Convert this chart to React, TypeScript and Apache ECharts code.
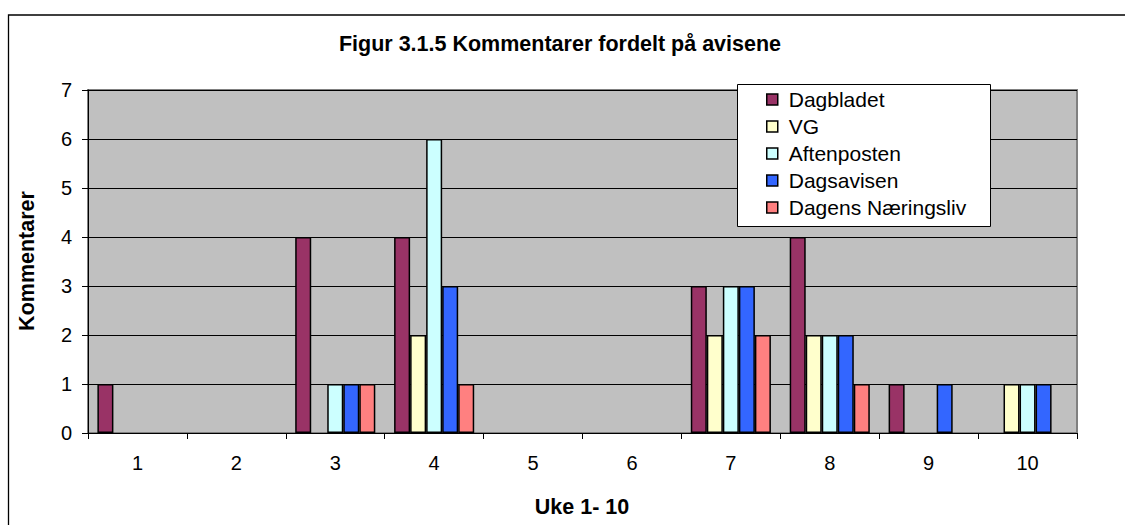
import React, { useEffect, useRef } from "react";
import * as echarts from "echarts";

const weeks = ["1", "2", "3", "4", "5", "6", "7", "8", "9", "10"];
const dagbladet = [1, 0, 4, 4, 0, 0, 3, 4, 1, 0];
const vg = [0, 0, 0, 2, 0, 0, 2, 2, 0, 1];
const aftenposten = [0, 0, 1, 6, 0, 0, 3, 2, 0, 1];
const dagsavisen = [0, 0, 1, 3, 0, 0, 3, 2, 1, 1];
const dagensNaeringsliv = [0, 0, 1, 1, 0, 0, 2, 1, 0, 0];
const yTicks = [0, 7, 1];

const seriesDefs = [
  { name: "Dagbladet", data: dagbladet, color: "#993366" },
  { name: "VG", data: vg, color: "#FFFFCC" },
  { name: "Aftenposten", data: aftenposten, color: "#CCFFFF" },
  { name: "Dagsavisen", data: dagsavisen, color: "#3366FF" },
  { name: "Dagens Næringsliv", data: dagensNaeringsliv, color: "#FF8080" },
];

const FONT = "'Liberation Sans', Arial, sans-serif";

export default function App() {
  const ref = useRef<HTMLDivElement>(null);
  useEffect(() => {
    if (!ref.current) return;
    const chart = echarts.init(ref.current, null, { renderer: "svg" });
    chart.setOption({
      animation: false,
      backgroundColor: "#ffffff",
      textStyle: { fontFamily: FONT },
      grid: {
        left: 88,
        top: 90,
        right: 48,
        bottom: 92,
        show: true,
        backgroundColor: "#C0C0C0",
        borderColor: "#808080",
        borderWidth: 2,
      },
      xAxis: {
        type: "category",
        data: weeks,
        axisLine: { show: true, lineStyle: { color: "#000", width: 1 } },
        axisTick: { show: true, length: 6, lineStyle: { color: "#000" } },
        axisLabel: { color: "#000", fontSize: 20, margin: 20, fontFamily: FONT },
        splitLine: { show: false },
      },
      yAxis: {
        type: "value",
        min: yTicks[0],
        max: yTicks[1],
        interval: yTicks[2],
        axisLine: { show: true, lineStyle: { color: "#000", width: 1 } },
        axisTick: { show: true, length: 6, lineStyle: { color: "#000" } },
        axisLabel: { color: "#000", fontSize: 20, margin: 16, fontFamily: FONT },
        splitLine: { show: true, lineStyle: { color: "#000", width: 1 } },
      },
      legend: {
        orient: "vertical",
        left: 737,
        top: 84,
        padding: [5, 24, 10, 29],
        itemWidth: 11,
        itemHeight: 11,
        itemGap: 6,
        icon: "rect",
        z: 5,
        itemStyle: { borderColor: "#000", borderWidth: 1.5 },
        textStyle: {
          fontSize: 21,
          lineHeight: 21,
          color: "#000",
          fontFamily: FONT,
          padding: [0, 0, 0, 6],
        },
        data: seriesDefs.map((s) => s.name),
      },
      graphic: [
        {
          type: "rect",
          shape: { x: 8.5, y: 15, width: 1300, height: 700 },
          style: { fill: "none", stroke: "#000", lineWidth: 1.3 },
          silent: true,
          z: 0,
        },
        {
          type: "rect",
          shape: { x: 737.5, y: 84.5, width: 253, height: 142 },
          style: { fill: "#fff", stroke: "#000", lineWidth: 1 },
          silent: true,
          z: 3,
        },
        {
          type: "text",
          x: 560,
          y: 44,
          style: {
            text: "Figur 3.1.5 Kommentarer fordelt på avisene",
            fontSize: 21.5,
            fontWeight: "bold",
            fontFamily: FONT,
            fill: "#000",
            align: "center",
            verticalAlign: "middle",
          },
        },
        {
          type: "text",
          x: 27,
          y: 261,
          rotation: Math.PI / 2,
          style: {
            text: "Kommentarer",
            fontSize: 21.5,
            fontWeight: "bold",
            fontFamily: FONT,
            fill: "#000",
            align: "center",
            verticalAlign: "middle",
          },
        },
        {
          type: "text",
          x: 582,
          y: 507,
          style: {
            text: "Uke 1- 10",
            fontSize: 21.5,
            fontWeight: "bold",
            fontFamily: FONT,
            fill: "#000",
            align: "center",
            verticalAlign: "middle",
          },
        },
      ],
      series: seriesDefs.map((s) => ({
        name: s.name,
        type: "bar",
        data: s.data.map((v) => (v === 0 ? null : v)),
        barGap: "0%",
        barCategoryGap: "19%",
        itemStyle: { color: s.color, borderColor: "#000", borderWidth: 1.5 },
        z: 2,
      })),
    });
    return () => chart.dispose();
  }, []);
  return (
    <div
      ref={ref}
      style={{ position: "absolute", left: 0, top: 0, width: 1125, height: 525 }}
    />
  );
}
